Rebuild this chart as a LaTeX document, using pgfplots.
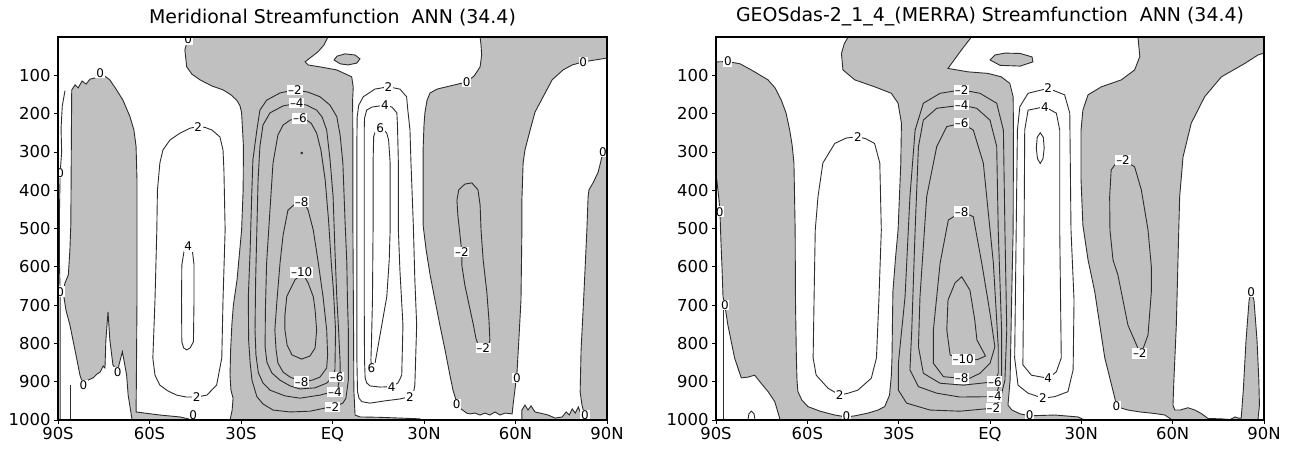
\documentclass[border=0pt]{standalone}
\usepackage{fontspec}
\setmainfont{DejaVu Sans}
\usepackage{pgfplots}
\pgfplotsset{compat=1.18}
\definecolor{shade}{RGB}{192,192,192}
\definecolor{cline}{RGB}{45,45,45}
\newcommand{\tf}{\fontsize{19}{21}\selectfont}
\newcommand{\kf}{\fontsize{16.5}{18}\selectfont}
\newcommand{\lf}{\fontsize{12}{13}\selectfont}
\pgfplotsset{
  gp/.style={
    scale only axis, height=383bp,
    xmin=-90, xmax=90, ymin=0, ymax=1000, y dir=reverse,
    axis on top,
    xtick={-90,-60,-30,0,30,60,90},
    xticklabels={90S,60S,30S,EQ,30N,60N,90N},
    ytick={100,200,300,400,500,600,700,800,900,1000},
    yticklabels={100,200,300,400,500,600,700,800,900,1000},
    tick align=outside, xtick pos=left, ytick pos=left,
    major tick length=4bp,
    tick style={black, line width=0.8bp},
    axis line style={black, line width=1.4bp},
    ticklabel style={font=\kf},
    title style={font=\tf, yshift=2bp},
  },
  zc/.style={fill=shade, draw=cline, line width=0.9bp},
  cl/.style={draw=cline, line width=0.9bp},
}
\tikzset{lb/.style={font=\lf, fill=white, inner sep=0.8bp}}
\begin{document}
\begin{tikzpicture}
\path[use as bounding box] (0,0) rectangle (1292bp,450bp);
% ================= LEFT PANEL =================
\begin{axis}[gp, width=549bp, at={(58bp,30bp)}, anchor=south west,
  title={Meridional Streamfunction\ \ ANN (34.4)}]
% gray (negative) regions
\addplot[zc] coordinates {(-85.5,138) (-84.4,125) (-83.4,133) (-82.1,115) (-80.8,123) (-79.5,110) (-77.9,107) (-76.2,94) (-75.2,99) (-73,112) (-70.8,138) (-68.7,165) (-66.4,208) (-65.1,243) (-64.4,286) (-64.1,373) (-64.1,504) (-64.1,687) (-64.3,896) (-64.4,979) (-56.6,987) (-50,992) (-45.7,1000) (-65.8,1000) (-65.8,995) (-67,935) (-67.5,883) (-68.4,843) (-68.9,822) (-70,856) (-70.4,875) (-71.3,864) (-72,856) (-73,791) (-73.6,718) (-74.3,791) (-74.6,864) (-75.2,859) (-76.2,875) (-77.2,880) (-78.5,890) (-80.2,896) (-81.7,909) (-82.8,883) (-83.9,838) (-85.1,791) (-86.1,752) (-87.4,713) (-88.3,666) (-87.7,642) (-86.6,621) (-86.1,556) (-85.8,491) (-85.7,373) (-85.6,243)} -- cycle;
\addplot[zc] coordinates {(-47.3,0) (-48.4,34) (-47.8,78) (-46.1,97) (-43.4,112) (-39.5,128) (-35.9,138) (-33.3,151) (-31.4,165) (-30.3,180) (-29.8,198) (-29.2,286) (-29.3,399) (-29.8,504) (-30.7,582) (-31.3,634) (-32.5,700) (-33,752) (-33.4,817) (-33.6,883) (-33.3,922) (-32.6,943) (-32.9,974) (-33.6,1000) (28.7,1000) (28.7,997) (22.2,995) (15.6,993) (9,992) (7.4,987) (7.0,922) (6.9,765) (6.7,504) (6.7,295) (6.6,165) (6.8,131) (6.3,104) (4.4,97) (1.4,86) (-4.1,78) (-8,73) (-9.0,65) (-7.4,55) (-4.8,39) (-2.8,21) (-1.5,0)} -- cycle;
\addplot[zc] coordinates {(48.4,0) (90,0) (90,55) (86.1,60) (82.2,65) (78.6,73) (75.6,86) (72,112) (69,157) (66.4,196) (64.8,243) (63.1,295) (62.5,329) (62.1,426) (62.1,504) (61.8,687) (61.1,791) (60.5,875) (59.8,922) (59.2,961) (58.9,984) (56.6,982) (54.9,987) (53.3,979) (51.6,987) (50,982) (48.4,987) (46.7,982) (45.1,984) (44,982) (41.8,969) (40.7,953) (39.5,922) (38.5,883) (36.9,817) (35.2,752) (33.6,687) (32,621) (30.7,556) (29.7,491) (29.7,373) (29.7,295) (30,230) (30.3,198) (31,165) (32,146) (34.3,136) (37.4,130) (41.1,123) (44,117) (46.4,102) (48.4,78) (48.9,47) (48.7,21)} -- cycle;
\addplot[zc] coordinates {(90,295) (88.7,300) (87.7,334) (87,355) (85.4,381) (84.1,399) (83.8,418) (83.4,504) (82.8,608) (82.2,708) (81.5,817) (81.2,927) (81.8,961) (82.8,992) (83.1,1000) (90,1000)} -- cycle;
\addplot[zc] coordinates {(62.1,1000) (62.1,974) (63.1,961) (64.1,974) (65.1,963) (66.4,979) (68.1,982) (70.7,987) (73,995) (75.3,992) (76.6,979) (77.6,987) (78.6,971) (79.6,982) (80.6,966) (81.2,979) (82.2,1000)} -- cycle;
\addplot[zc] coordinates {(0.5,60) (1.5,50) (4.1,44) (7.4,47) (9,57) (8,68) (5.1,73) (2.5,70)} -- cycle;
% contour lines
\addplot[cl] coordinates {(-44.5,940) (-41.2,935) (-38,909) (-36.3,838) (-35.9,687) (-35.2,504) (-35.6,347) (-35.9,295) (-36.9,261) (-39.5,243) (-41.8,236) (-44,234) (-46.7,238) (-50,251) (-53.3,269) (-55.6,295) (-56.6,329) (-57.4,400) (-57.6,504) (-58.2,687) (-58.9,838) (-58.2,883) (-56.6,909) (-54,924) (-51.1,935) (-48,940)} -- cycle;
\addplot[cl] coordinates {(-47.3,547) (-48.7,561) (-49.4,595) (-49.5,687) (-49.4,796) (-48.8,812) (-47.8,817) (-46.7,812) (-45.6,796) (-45.4,687) (-45.4,595) (-45.9,561)} -- cycle;
\addplot[cl] coordinates {(-12.3,138) (-17.2,146) (-21.6,165) (-23.8,191) (-24.8,243) (-26.1,321) (-26.5,417) (-27,556) (-27.6,678) (-27.5,791) (-27,851) (-26.4,896) (-24.8,939) (-22.8,958) (-19.5,974) (-13.9,979) (-7.4,977) (-0.8,966) (1.8,961) (3.4,956) (4.4,943) (5.2,896) (5.2,765) (4.9,687) (4.7,590) (4.1,478) (3.4,329) (2.5,256) (1.4,208) (-0.8,178) (-4.1,156) (-8,144)} -- cycle;
\addplot[cl] coordinates {(-11.7,173) (-16.2,180) (-20.5,198) (-22.8,230) (-23.8,286) (-24.4,373) (-24.8,504) (-25.2,634) (-25.4,765) (-25.1,830) (-24.3,877) (-22.8,903) (-20.5,922) (-15.6,937) (-10.7,943) (-4.1,935) (0.2,926) (1.8,914) (2.5,883) (2.5,851) (2,765) (1.4,678) (0.8,556) (0.2,417) (-0.8,321) (-1.9,243) (-3.4,209) (-5.2,191) (-8.4,178)} -- cycle;
\addplot[cl] coordinates {(-10.7,212) (-13.9,217) (-16.2,230) (-17.9,256) (-19.5,329) (-20.5,452) (-21.6,590) (-22,713) (-22.1,809) (-21.5,849) (-19.9,877) (-17.2,896) (-13.9,911) (-10.7,919) (-5.7,916) (-2,904) (0.2,888) (0.8,869) (1.0,765) (0.3,661) (-0.4,590) (-1.3,478) (-2.4,373) (-3.8,295) (-5.2,251) (-7,225) (-9,214)} -- cycle;
\addplot[cl] coordinates {(-10.1,430) (-12.3,436) (-14.6,452) (-16.2,517) (-17.2,590) (-18.2,687) (-18.9,765) (-18.5,817) (-17.9,851) (-16.2,875) (-13.9,888) (-10.1,900) (-6.7,896) (-4.1,888) (-1.9,864) (-1.6,830) (-1.9,765) (-3.1,678) (-4.8,582) (-6.3,504) (-8,452) (-9.3,433)} -- cycle;
\addplot[cl] coordinates {(-10.1,619) (-12.3,634) (-14.3,666) (-15,678) (-15.6,726) (-15.6,765) (-14.9,804) (-13.3,830) (-10.1,841) (-7.4,833) (-5.7,812) (-5.2,765) (-5.7,713) (-6.3,678) (-8,642) (-9.3,624)} -- cycle;
\addplot[only marks, mark=*, mark size=1.1bp, color=cline] coordinates {(-10.1,303)};
\addplot[cl] coordinates {(18.3,130) (13.9,136) (10.1,156) (8.6,178) (8.1,208) (8.0,269) (8.0,329) (8.0,504) (8.0,687) (8.0,843) (8.2,926) (8.7,943) (9.6,952) (12.3,956) (17.2,950) (22.2,945) (25.4,939) (26.6,927) (27,909) (27.6,752) (27,634) (26.5,491) (25.7,321) (25.4,243) (24.7,191) (24.3,156) (22.1,136)} -- cycle;
\addplot[cl] coordinates {(17.2,178) (12.9,183) (11.2,191) (10.5,212) (10.4,243) (10.4,373) (10.4,504) (10.4,687) (10.5,843) (10.7,890) (11.2,903) (12.3,911) (15.6,914) (19.4,913) (21.5,903) (22.7,883) (23.1,752) (22.1,608) (21.6,504) (21.6,329) (21.3,230) (21.1,198) (19.5,183)} -- cycle;
\addplot[cl] coordinates {(15.6,238) (14.2,243) (13.5,260) (13.3,329) (13.3,504) (13.1,687) (12.8,791) (12.6,843) (12.8,865) (13.9,854) (14.9,809) (17.8,678) (18.6,582) (18.9,504) (18.9,329) (18.4,269) (17.8,251) (16.5,240)} -- cycle;
\addplot[cl] coordinates {(45.7,381) (47.7,399) (48.4,439) (48.7,504) (49.4,582) (50.6,666) (51.3,739) (51.6,791) (51,812) (49.4,817) (48,809) (47,786) (46.2,752) (44.8,700) (43.4,648) (42.4,595) (42.4,561) (41.8,517) (41.1,465) (40.8,426) (41.4,399) (43.4,384)} -- cycle;
\addplot[cl] coordinates {(-87.7,140) (-88.6,180) (-89,240) (-88.8,300) (-89.3,355) (-89.5,450) (-89.5,600) (-89.3,665) (-89.3,1000)};
\addplot[cl] coordinates {(-85.8,909) (-85.8,1000)};
% labels
\node[lb] at (axis cs:-76.2,94) {0};
\node[lb] at (axis cs:-47.3,6) {0};
\node[lb] at (axis cs:-89.3,355) {0};
\node[lb] at (axis cs:-89.3,665) {0};
\node[lb] at (axis cs:-81.7,909) {0};
\node[lb] at (axis cs:-70.4,875) {0};
\node[lb] at (axis cs:-45.7,988) {0};
\node[lb] at (axis cs:44,117) {0};
\node[lb] at (axis cs:82.2,65) {0};
\node[lb] at (axis cs:88.7,300) {0};
\node[lb] at (axis cs:60.5,890) {0};
\node[lb] at (axis cs:40.7,958) {0};
\node[lb] at (axis cs:82.8,988) {0};
\node[lb] at (axis cs:-12.3,138) {–2};
\node[lb] at (axis cs:-11.7,173) {–4};
\node[lb] at (axis cs:-10.7,212) {–6};
\node[lb] at (axis cs:-10.1,430) {–8};
\node[lb] at (axis cs:-10.1,615) {–10};
\node[lb] at (axis cs:-10.1,900) {–8};
\node[lb] at (axis cs:1.4,888) {–6};
\node[lb] at (axis cs:0.8,926) {–4};
\node[lb] at (axis cs:0,966) {–2};
\node[lb] at (axis cs:-44,234) {2};
\node[lb] at (axis cs:-44.5,940) {2};
\node[lb] at (axis cs:-47.3,547) {4};
\node[lb] at (axis cs:18.3,130) {2};
\node[lb] at (axis cs:17.2,178) {4};
\node[lb] at (axis cs:15.6,238) {6};
\node[lb] at (axis cs:12.8,865) {6};
\node[lb] at (axis cs:19.4,913) {4};
\node[lb] at (axis cs:25.4,939) {2};
\node[lb] at (axis cs:42.4,561) {–2};
\node[lb] at (axis cs:49.4,812) {–2};
\end{axis}
% ================= RIGHT PANEL =================
\begin{axis}[gp, width=548bp, at={(716bp,30bp)}, anchor=south west,
  title={GEOSdas-2\_1\_4\_(MERRA) Streamfunction\ \ ANN (34.4)}]
\addplot[zc] coordinates {(-90,65) (-86.1,64) (-82.1,70) (-78.4,86) (-72.9,112) (-70.6,133) (-68.6,164) (-67,198) (-65.8,243) (-65,282) (-64.4,329) (-64,504) (-63.9,687) (-63.6,838) (-63.4,896) (-63.1,926) (-61.8,948) (-59.8,965) (-55.8,977) (-51,987) (-47.2,992) (-44.3,989) (-40.1,982) (-36.8,974) (-34.6,965) (-33,935) (-32.4,883) (-32.2,838) (-31.9,665) (-31.1,582) (-30.2,504) (-29.3,329) (-29.1,225) (-30.2,173) (-32.4,147) (-37.9,130) (-44.4,112) (-48.3,86) (-48.8,43) (-47.9,18) (-46.6,0) (-6.1,0) (-9.4,34) (-13.8,82) (-7.2,91) (-0.7,95) (3.7,104) (6.5,121) (7.6,156) (7.7,243) (7.6,504) (7.1,687) (6.6,896) (5.9,961) (7.2,974) (9.9,984) (13,989) (21.3,987) (28.9,992) (31.1,1000) (-69.1,1000) (-69.1,995) (-70.7,952) (-72.9,926) (-75.6,900) (-77.3,883) (-79.5,888) (-81.7,890) (-83.9,838) (-86.1,752) (-87.1,700) (-87.7,678) (-88,608) (-88.4,530) (-88.7,457) (-89,426) (-90,355)} -- cycle;
\addplot[zc] coordinates {(48.6,0) (90,0) (90,42) (88,47) (83.7,69) (76,104) (70.5,156) (66.1,225) (63.4,313) (62.3,417) (62,504) (61.2,752) (60.4,896) (60.1,961) (60.7,974) (62.4,974) (65,968) (67.3,974) (69.4,983) (71.6,996) (76,997) (78.8,999) (80.5,992) (81.5,995) (82.5,995) (83.2,922) (84.1,791) (85.1,687) (85.8,665) (86.7,687) (87.7,791) (88.3,896) (88.5,961) (88,1000) (59.8,1000) (59.1,996) (57.4,987) (54.1,983) (49.3,979) (45.3,974) (41.5,965) (41,943) (37.7,838) (34.4,665) (32.2,582) (30.5,491) (29.9,373) (29.9,243) (30.5,191) (32.2,151) (36.6,130) (43.1,112) (47.5,86) (49.2,51)} -- cycle;
\addplot[zc] coordinates {(0,60) (1.6,47) (4.9,42) (9.9,43) (13.8,52) (14.1,65) (9.9,76) (3.3,74)} -- cycle;
\addplot[cl] coordinates {(-79.5,1000) (-79.2,984) (-78.4,977) (-77.5,984) (-77.2,1000)};
\addplot[cl] coordinates {(-87.7,700) (-87.7,1000)};
% contours
\addplot[cl] coordinates {(-43.4,260) (-40.7,266) (-37.9,278) (-36.2,329) (-35.7,504) (-36.5,687) (-37.3,838) (-39,891) (-43.4,922) (-46.6,930) (-49.4,935) (-53.2,917) (-57.1,883) (-58.1,838) (-57.8,687) (-57.4,504) (-56.5,417) (-54.9,329) (-51,278) (-47.3,264)} -- cycle;
\addplot[cl] coordinates {(-9.3,138) (-16.4,147) (-21.9,173) (-24.6,243) (-26.3,417) (-27.9,678) (-30.1,852) (-30.1,922) (-27.4,956) (-19.7,974) (-9.9,977) (1.1,969) (3.3,948) (4.9,896) (5.5,765) (4.9,504) (4.4,243) (2.2,173) (-3.3,147)} -- cycle;
\addplot[cl] coordinates {(-9.3,178) (-17.5,186) (-21.9,217) (-23.5,286) (-24.6,504) (-25.7,765) (-26.3,869) (-23.5,913) (-17.5,930) (-9.9,940) (1.6,939) (3.8,896) (3.8,765) (2.7,504) (2.2,286) (0,217) (-4.4,186)} -- cycle;
\addplot[cl] coordinates {(-9.3,225) (-14.2,234) (-17.5,286) (-20.8,417) (-23,678) (-23.5,809) (-21.9,878) (-16.4,904) (-8.8,909) (1.6,900) (2.7,878) (2.7,809) (1.1,590) (-2.2,329) (-5.5,243)} -- cycle;
\addplot[cl] coordinates {(-9.3,456) (-13.7,478) (-16.4,591) (-18.6,765) (-18.6,852) (-15.3,887) (-9.3,891) (-6.6,891) (-3.3,878) (0,852) (1.6,809) (0,721) (-2.7,591) (-5.5,469)} -- cycle;
\addplot[cl] coordinates {(-9.3,626) (-6.6,661) (-5,739) (-4.3,791) (-2,825) (-1.5,833) (-4,842) (-8.8,846) (-13.1,830) (-14.2,765) (-13.8,687) (-11.5,642)} -- cycle;
\addplot[cl] coordinates {(19.1,134) (12.5,147) (9.8,182) (9.0,243) (8.6,504) (8.1,838) (9.2,909) (12.5,930) (17.4,943) (21.3,939) (25.6,926) (27.3,869) (27.6,687) (26.6,504) (26.2,199) (24.5,151)} -- cycle;
\addplot[cl] coordinates {(18,182) (12.5,191) (11.4,243) (11.2,504) (10.8,856) (13.6,883) (19.1,891) (21.8,874) (23.4,838) (22.9,504) (22.9,243) (21.8,199)} -- cycle;
\addplot[cl] coordinates {(16.5,250) (17.5,262) (17.8,290) (17.4,318) (16.5,330) (15.6,318) (15.2,290) (15.5,262)} -- cycle;
\addplot[cl] coordinates {(43.7,321) (47.5,339) (49.7,399) (51.9,504) (53,600) (53,665) (51.9,778) (50.3,813) (49.2,826) (48.6,813) (45.3,752) (42,621) (40.4,582) (39.4,504) (39.3,417) (39.8,347) (41.5,328)} -- cycle;
% labels
\node[lb] at (axis cs:-86.1,64) {0};
\node[lb] at (axis cs:-88.8,456) {0};
\node[lb] at (axis cs:-87.1,700) {0};
\node[lb] at (axis cs:-47.2,990) {0};
\node[lb] at (axis cs:13,988) {0};
\node[lb] at (axis cs:41.5,965) {0};
\node[lb] at (axis cs:85.8,665) {0};
\node[lb] at (axis cs:-43.4,260) {2};
\node[lb] at (axis cs:-49.4,935) {2};
\node[lb] at (axis cs:-9.3,138) {–2};
\node[lb] at (axis cs:-9.3,178) {–4};
\node[lb] at (axis cs:-9.3,225) {–6};
\node[lb] at (axis cs:-9.3,456) {–8};
\node[lb] at (axis cs:-8.8,842) {–10};
\node[lb] at (axis cs:-9.3,891) {–8};
\node[lb] at (axis cs:1.6,900) {–6};
\node[lb] at (axis cs:1.6,939) {–4};
\node[lb] at (axis cs:1.1,969) {–2};
\node[lb] at (axis cs:19.1,134) {2};
\node[lb] at (axis cs:18,182) {4};
\node[lb] at (axis cs:19.1,891) {4};
\node[lb] at (axis cs:17.4,943) {2};
\node[lb] at (axis cs:43.7,321) {–2};
\node[lb] at (axis cs:49.2,826) {–2};
\end{axis}
\end{tikzpicture}
\end{document}
